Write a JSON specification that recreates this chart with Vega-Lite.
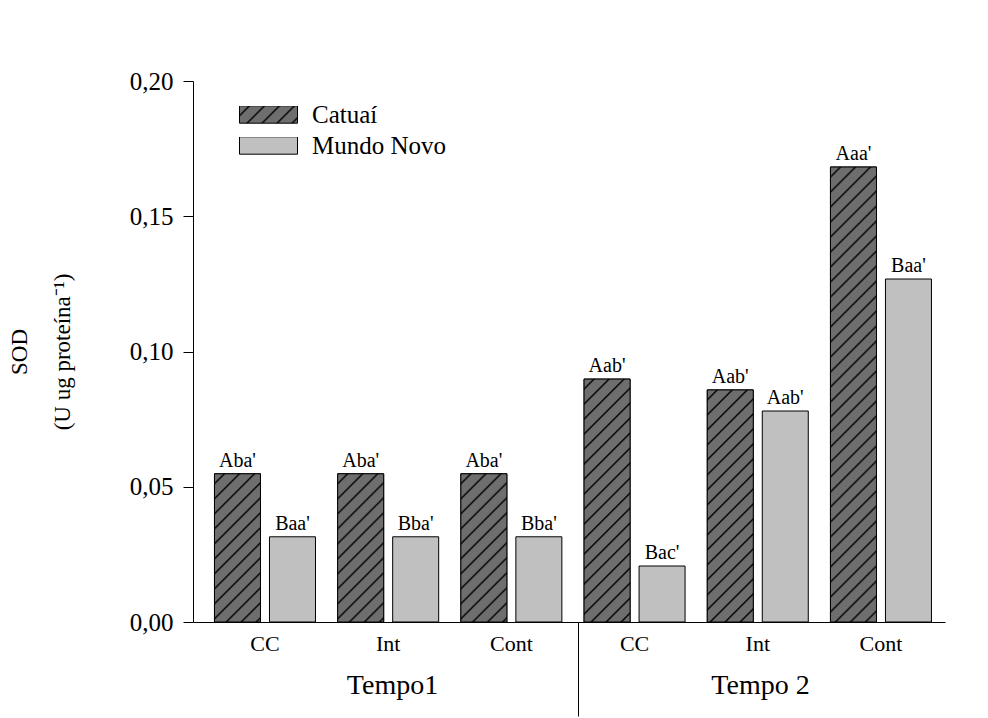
{
"$schema": "https://vega.github.io/schema/vega-lite/v6.json",
"autosize": "none",
"padding": {"left": 193, "top": 81, "right": 43, "bottom": 96},
"width": 752,
"height": 541,
"background": "white",
"config": {"view": {"stroke": null}, "font": "Liberation Serif"},
"data": {"values": [
{"tempo":"Tempo1","grupo":"T1 CC","variedade":"Catuaí","sod":0.0548,"letra":"Aba'"},
{"tempo":"Tempo1","grupo":"T1 CC","variedade":"Mundo Novo","sod":0.0315,"letra":"Baa'"},
{"tempo":"Tempo1","grupo":"T1 Int","variedade":"Catuaí","sod":0.0548,"letra":"Aba'"},
{"tempo":"Tempo1","grupo":"T1 Int","variedade":"Mundo Novo","sod":0.0315,"letra":"Bba'"},
{"tempo":"Tempo1","grupo":"T1 Cont","variedade":"Catuaí","sod":0.0548,"letra":"Aba'"},
{"tempo":"Tempo1","grupo":"T1 Cont","variedade":"Mundo Novo","sod":0.0315,"letra":"Bba'"},
{"tempo":"Tempo 2","grupo":"T2 CC","variedade":"Catuaí","sod":0.0898,"letra":"Aab'"},
{"tempo":"Tempo 2","grupo":"T2 CC","variedade":"Mundo Novo","sod":0.0207,"letra":"Bac'"},
{"tempo":"Tempo 2","grupo":"T2 Int","variedade":"Catuaí","sod":0.0858,"letra":"Aab'"},
{"tempo":"Tempo 2","grupo":"T2 Int","variedade":"Mundo Novo","sod":0.0780,"letra":"Aab'"},
{"tempo":"Tempo 2","grupo":"T2 Cont","variedade":"Catuaí","sod":0.1682,"letra":"Aaa'"},
{"tempo":"Tempo 2","grupo":"T2 Cont","variedade":"Mundo Novo","sod":0.1268,"letra":"Baa'"}
]},
"layer": [
{"layer": [
{"mark": {"type": "bar", "stroke": "black", "strokeWidth": 1, "opacity": 1},
 "encoding": {
  "x": {"field": "grupo", "type": "nominal",
   "scale": {"domain": ["T1 CC","T1 Int","T1 Cont","T2 CC","T2 Int","T2 Cont"], "paddingInner": 0, "paddingOuter": 0.052, "align": 0.81},
   "axis": {"title": null, "ticks": false, "domainColor": "black", "domainWidth": 1, "labelExpr": "slice(datum.value, 3)", "labelFont": "Liberation Serif", "labelFontSize": 22, "labelColor": "black", "labelPadding": 11, "labelAngle": 0}},
  "xOffset": {"field": "variedade", "type": "nominal", "scale": {"domain": ["Catuaí","Mundo Novo"], "paddingInner": 0.1636, "paddingOuter": 0.2018}},
  "y": {"field": "sod", "type": "quantitative", "scale": {"domain": [0, 0.2], "nice": false},
   "axis": {"title": ["SOD", "(U ug proteína⁻¹)"], "values": [0, 0.05, 0.1, 0.15, 0.2], "labelExpr": "replace(format(datum.value, '.2f'), '.', ',')", "grid": false, "domainColor": "black", "tickColor": "black", "tickSize": 10, "labelPadding": 10, "labelFont": "Liberation Serif", "labelFontSize": 25, "labelColor": "black", "titleFont": "Liberation Serif", "titleFontSize": 23, "titleFontWeight": "normal", "titleColor": "black", "titleLineHeight": 43, "titlePadding": 55}},
  "fill": {"field": "variedade", "type": "nominal", "scale": {"domain": ["Mundo Novo"], "range": ["#c0c0c0"]},
   "legend": {"title": null, "orient": "none", "legendX": 46, "legendY": 56, "direction": "vertical", "symbolType": "M-1,-0.3H1V0.3H-1Z", "symbolSize": 3364, "symbolStrokeColor": "black", "symbolStrokeWidth": 1, "symbolOpacity": 1, "labelFont": "Liberation Serif", "labelFontSize": 25, "labelColor": "black", "labelOffset": 14, "labelLimit": 400, "clipHeight": 17, "padding": 0}}
 }},
{"transform": [{"filter": "datum.variedade === 'Catuaí'"}],
 "mark": {"type": "bar", "strokeWidth": 1},
 "encoding": {
  "x": {"field": "grupo", "type": "nominal"},
  "xOffset": {"field": "variedade", "type": "nominal"},
  "y": {"field": "sod", "type": "quantitative"},
  "stroke": {"field": "variedade", "type": "nominal", "scale": {"domain": ["Catuaí"], "range": ["black"]},
   "legend": {"title": null, "orient": "none", "legendX": 46, "legendY": 25, "direction": "vertical", "symbolType": "M-1,-0.3H1V0.3H-1Z", "symbolSize": 3364, "symbolStrokeWidth": 1, "symbolOpacity": 1, "labelFont": "Liberation Serif", "labelFontSize": 25, "labelColor": "black", "labelOffset": 14, "labelLimit": 400, "clipHeight": 17, "padding": 0}},
  "fill": {"condition": [
   {"test": "datum.tempo === 'Tempo1'", "value": {"gradient":"linear","x1":0,"y1":0,"x2":0.371,"y2":1.1952,"stops":[
    {"offset":0,"color":"#6e6e6e"},
    {"offset":0.0412,"color":"#6e6e6e"},{"offset":0.0515,"color":"#000"},{"offset":0.0618,"color":"#6e6e6e"},
    {"offset":0.1184,"color":"#6e6e6e"},{"offset":0.1287,"color":"#000"},{"offset":0.1390,"color":"#6e6e6e"},
    {"offset":0.1957,"color":"#6e6e6e"},{"offset":0.2060,"color":"#000"},{"offset":0.2163,"color":"#6e6e6e"},
    {"offset":0.2729,"color":"#6e6e6e"},{"offset":0.2832,"color":"#000"},{"offset":0.2935,"color":"#6e6e6e"},
    {"offset":0.3502,"color":"#6e6e6e"},{"offset":0.3605,"color":"#000"},{"offset":0.3708,"color":"#6e6e6e"},
    {"offset":0.4274,"color":"#6e6e6e"},{"offset":0.4377,"color":"#000"},{"offset":0.4480,"color":"#6e6e6e"},
    {"offset":0.5046,"color":"#6e6e6e"},{"offset":0.5149,"color":"#000"},{"offset":0.5252,"color":"#6e6e6e"},
    {"offset":0.5819,"color":"#6e6e6e"},{"offset":0.5922,"color":"#000"},{"offset":0.6025,"color":"#6e6e6e"},
    {"offset":0.6591,"color":"#6e6e6e"},{"offset":0.6694,"color":"#000"},{"offset":0.6797,"color":"#6e6e6e"},
    {"offset":0.7364,"color":"#6e6e6e"},{"offset":0.7467,"color":"#000"},{"offset":0.7570,"color":"#6e6e6e"},
    {"offset":0.8136,"color":"#6e6e6e"},{"offset":0.8239,"color":"#000"},{"offset":0.8342,"color":"#6e6e6e"},
    {"offset":0.8908,"color":"#6e6e6e"},{"offset":0.9011,"color":"#000"},{"offset":0.9114,"color":"#6e6e6e"},
    {"offset":0.9681,"color":"#6e6e6e"},{"offset":0.9784,"color":"#000"},{"offset":0.9887,"color":"#6e6e6e"},
    {"offset":1,"color":"#6e6e6e"}]}},
   {"test": "datum.grupo === 'T2 CC'", "value": {"gradient":"linear","x1":0,"y1":0,"x2":0.21744,"y2":1.1482,"stops":[
    {"offset":0,"color":"#6e6e6e"},
    {"offset":0.0277,"color":"#6e6e6e"},{"offset":0.0346,"color":"#000"},{"offset":0.0415,"color":"#6e6e6e"},
    {"offset":0.0796,"color":"#6e6e6e"},{"offset":0.0865,"color":"#000"},{"offset":0.0935,"color":"#6e6e6e"},
    {"offset":0.1315,"color":"#6e6e6e"},{"offset":0.1385,"color":"#000"},{"offset":0.1454,"color":"#6e6e6e"},
    {"offset":0.1835,"color":"#6e6e6e"},{"offset":0.1904,"color":"#000"},{"offset":0.1973,"color":"#6e6e6e"},
    {"offset":0.2354,"color":"#6e6e6e"},{"offset":0.2423,"color":"#000"},{"offset":0.2492,"color":"#6e6e6e"},
    {"offset":0.2873,"color":"#6e6e6e"},{"offset":0.2942,"color":"#000"},{"offset":0.3012,"color":"#6e6e6e"},
    {"offset":0.3392,"color":"#6e6e6e"},{"offset":0.3461,"color":"#000"},{"offset":0.3531,"color":"#6e6e6e"},
    {"offset":0.3911,"color":"#6e6e6e"},{"offset":0.3981,"color":"#000"},{"offset":0.4050,"color":"#6e6e6e"},
    {"offset":0.4431,"color":"#6e6e6e"},{"offset":0.4500,"color":"#000"},{"offset":0.4569,"color":"#6e6e6e"},
    {"offset":0.4950,"color":"#6e6e6e"},{"offset":0.5019,"color":"#000"},{"offset":0.5088,"color":"#6e6e6e"},
    {"offset":0.5469,"color":"#6e6e6e"},{"offset":0.5538,"color":"#000"},{"offset":0.5608,"color":"#6e6e6e"},
    {"offset":0.5988,"color":"#6e6e6e"},{"offset":0.6057,"color":"#000"},{"offset":0.6127,"color":"#6e6e6e"},
    {"offset":0.6507,"color":"#6e6e6e"},{"offset":0.6577,"color":"#000"},{"offset":0.6646,"color":"#6e6e6e"},
    {"offset":0.7027,"color":"#6e6e6e"},{"offset":0.7096,"color":"#000"},{"offset":0.7165,"color":"#6e6e6e"},
    {"offset":0.7546,"color":"#6e6e6e"},{"offset":0.7615,"color":"#000"},{"offset":0.7684,"color":"#6e6e6e"},
    {"offset":0.8065,"color":"#6e6e6e"},{"offset":0.8134,"color":"#000"},{"offset":0.8204,"color":"#6e6e6e"},
    {"offset":0.8584,"color":"#6e6e6e"},{"offset":0.8654,"color":"#000"},{"offset":0.8723,"color":"#6e6e6e"},
    {"offset":0.9104,"color":"#6e6e6e"},{"offset":0.9173,"color":"#000"},{"offset":0.9242,"color":"#6e6e6e"},
    {"offset":0.9623,"color":"#6e6e6e"},{"offset":0.9692,"color":"#000"},{"offset":0.9761,"color":"#6e6e6e"},
    {"offset":1,"color":"#6e6e6e"}]}},
   {"test": "datum.grupo === 'T2 Int'", "value": {"gradient":"linear","x1":0,"y1":0,"x2":0.22849,"y2":1.1529,"stops":[
    {"offset":0,"color":"#6e6e6e"},
    {"offset":0.0288,"color":"#6e6e6e"},{"offset":0.0360,"color":"#000"},{"offset":0.0432,"color":"#6e6e6e"},
    {"offset":0.0827,"color":"#6e6e6e"},{"offset":0.0899,"color":"#000"},{"offset":0.0971,"color":"#6e6e6e"},
    {"offset":0.1366,"color":"#6e6e6e"},{"offset":0.1438,"color":"#000"},{"offset":0.1510,"color":"#6e6e6e"},
    {"offset":0.1906,"color":"#6e6e6e"},{"offset":0.1978,"color":"#000"},{"offset":0.2050,"color":"#6e6e6e"},
    {"offset":0.2445,"color":"#6e6e6e"},{"offset":0.2517,"color":"#000"},{"offset":0.2589,"color":"#6e6e6e"},
    {"offset":0.2985,"color":"#6e6e6e"},{"offset":0.3057,"color":"#000"},{"offset":0.3128,"color":"#6e6e6e"},
    {"offset":0.3524,"color":"#6e6e6e"},{"offset":0.3596,"color":"#000"},{"offset":0.3668,"color":"#6e6e6e"},
    {"offset":0.4063,"color":"#6e6e6e"},{"offset":0.4135,"color":"#000"},{"offset":0.4207,"color":"#6e6e6e"},
    {"offset":0.4603,"color":"#6e6e6e"},{"offset":0.4675,"color":"#000"},{"offset":0.4747,"color":"#6e6e6e"},
    {"offset":0.5142,"color":"#6e6e6e"},{"offset":0.5214,"color":"#000"},{"offset":0.5286,"color":"#6e6e6e"},
    {"offset":0.5682,"color":"#6e6e6e"},{"offset":0.5753,"color":"#000"},{"offset":0.5825,"color":"#6e6e6e"},
    {"offset":0.6221,"color":"#6e6e6e"},{"offset":0.6293,"color":"#000"},{"offset":0.6365,"color":"#6e6e6e"},
    {"offset":0.6760,"color":"#6e6e6e"},{"offset":0.6832,"color":"#000"},{"offset":0.6904,"color":"#6e6e6e"},
    {"offset":0.7300,"color":"#6e6e6e"},{"offset":0.7372,"color":"#000"},{"offset":0.7443,"color":"#6e6e6e"},
    {"offset":0.7839,"color":"#6e6e6e"},{"offset":0.7911,"color":"#000"},{"offset":0.7983,"color":"#6e6e6e"},
    {"offset":0.8378,"color":"#6e6e6e"},{"offset":0.8450,"color":"#000"},{"offset":0.8522,"color":"#6e6e6e"},
    {"offset":0.8918,"color":"#6e6e6e"},{"offset":0.8990,"color":"#000"},{"offset":0.9062,"color":"#6e6e6e"},
    {"offset":0.9457,"color":"#6e6e6e"},{"offset":0.9529,"color":"#000"},{"offset":0.9601,"color":"#6e6e6e"},
    {"offset":1,"color":"#6e6e6e"}]}},
   {"test": "datum.grupo === 'T2 Cont'", "value": {"gradient":"linear","x1":0,"y1":0,"x2":0.11019,"y2":1.08996,"stops":[
    {"offset":0,"color":"#6e6e6e"},
    {"offset":0.0160,"color":"#6e6e6e"},{"offset":0.0200,"color":"#000"},{"offset":0.0240,"color":"#6e6e6e"},
    {"offset":0.0459,"color":"#6e6e6e"},{"offset":0.0499,"color":"#000"},{"offset":0.0539,"color":"#6e6e6e"},
    {"offset":0.0759,"color":"#6e6e6e"},{"offset":0.0798,"color":"#000"},{"offset":0.0838,"color":"#6e6e6e"},
    {"offset":0.1058,"color":"#6e6e6e"},{"offset":0.1098,"color":"#000"},{"offset":0.1138,"color":"#6e6e6e"},
    {"offset":0.1357,"color":"#6e6e6e"},{"offset":0.1397,"color":"#000"},{"offset":0.1437,"color":"#6e6e6e"},
    {"offset":0.1657,"color":"#6e6e6e"},{"offset":0.1697,"color":"#000"},{"offset":0.1737,"color":"#6e6e6e"},
    {"offset":0.1956,"color":"#6e6e6e"},{"offset":0.1996,"color":"#000"},{"offset":0.2036,"color":"#6e6e6e"},
    {"offset":0.2256,"color":"#6e6e6e"},{"offset":0.2295,"color":"#000"},{"offset":0.2335,"color":"#6e6e6e"},
    {"offset":0.2555,"color":"#6e6e6e"},{"offset":0.2595,"color":"#000"},{"offset":0.2635,"color":"#6e6e6e"},
    {"offset":0.2854,"color":"#6e6e6e"},{"offset":0.2894,"color":"#000"},{"offset":0.2934,"color":"#6e6e6e"},
    {"offset":0.3154,"color":"#6e6e6e"},{"offset":0.3194,"color":"#000"},{"offset":0.3234,"color":"#6e6e6e"},
    {"offset":0.3453,"color":"#6e6e6e"},{"offset":0.3493,"color":"#000"},{"offset":0.3533,"color":"#6e6e6e"},
    {"offset":0.3753,"color":"#6e6e6e"},{"offset":0.3792,"color":"#000"},{"offset":0.3832,"color":"#6e6e6e"},
    {"offset":0.4052,"color":"#6e6e6e"},{"offset":0.4092,"color":"#000"},{"offset":0.4132,"color":"#6e6e6e"},
    {"offset":0.4351,"color":"#6e6e6e"},{"offset":0.4391,"color":"#000"},{"offset":0.4431,"color":"#6e6e6e"},
    {"offset":0.4651,"color":"#6e6e6e"},{"offset":0.4691,"color":"#000"},{"offset":0.4731,"color":"#6e6e6e"},
    {"offset":0.4950,"color":"#6e6e6e"},{"offset":0.4990,"color":"#000"},{"offset":0.5030,"color":"#6e6e6e"},
    {"offset":0.5250,"color":"#6e6e6e"},{"offset":0.5289,"color":"#000"},{"offset":0.5329,"color":"#6e6e6e"},
    {"offset":0.5549,"color":"#6e6e6e"},{"offset":0.5589,"color":"#000"},{"offset":0.5629,"color":"#6e6e6e"},
    {"offset":0.5848,"color":"#6e6e6e"},{"offset":0.5888,"color":"#000"},{"offset":0.5928,"color":"#6e6e6e"},
    {"offset":0.6148,"color":"#6e6e6e"},{"offset":0.6188,"color":"#000"},{"offset":0.6228,"color":"#6e6e6e"},
    {"offset":0.6447,"color":"#6e6e6e"},{"offset":0.6487,"color":"#000"},{"offset":0.6527,"color":"#6e6e6e"},
    {"offset":0.6747,"color":"#6e6e6e"},{"offset":0.6786,"color":"#000"},{"offset":0.6826,"color":"#6e6e6e"},
    {"offset":0.7046,"color":"#6e6e6e"},{"offset":0.7086,"color":"#000"},{"offset":0.7126,"color":"#6e6e6e"},
    {"offset":0.7345,"color":"#6e6e6e"},{"offset":0.7385,"color":"#000"},{"offset":0.7425,"color":"#6e6e6e"},
    {"offset":0.7645,"color":"#6e6e6e"},{"offset":0.7685,"color":"#000"},{"offset":0.7725,"color":"#6e6e6e"},
    {"offset":0.7944,"color":"#6e6e6e"},{"offset":0.7984,"color":"#000"},{"offset":0.8024,"color":"#6e6e6e"},
    {"offset":0.8244,"color":"#6e6e6e"},{"offset":0.8283,"color":"#000"},{"offset":0.8323,"color":"#6e6e6e"},
    {"offset":0.8543,"color":"#6e6e6e"},{"offset":0.8583,"color":"#000"},{"offset":0.8623,"color":"#6e6e6e"},
    {"offset":0.8842,"color":"#6e6e6e"},{"offset":0.8882,"color":"#000"},{"offset":0.8922,"color":"#6e6e6e"},
    {"offset":0.9142,"color":"#6e6e6e"},{"offset":0.9182,"color":"#000"},{"offset":0.9222,"color":"#6e6e6e"},
    {"offset":0.9441,"color":"#6e6e6e"},{"offset":0.9481,"color":"#000"},{"offset":0.9521,"color":"#6e6e6e"},
    {"offset":0.9741,"color":"#6e6e6e"},{"offset":0.9780,"color":"#000"},{"offset":0.9820,"color":"#6e6e6e"},
    {"offset":1,"color":"#6e6e6e"}]}}
  ],
  "value": {"gradient":"linear","x1":0,"y1":0,"x2":1.19266,"y2":0.3578,"stops":[
      {"offset":0,"color":"#6e6e6e"},
      {"offset":0.1061,"color":"#6e6e6e"},{"offset":0.1326,"color":"#000"},{"offset":0.1592,"color":"#6e6e6e"},
      {"offset":0.3050,"color":"#6e6e6e"},{"offset":0.3316,"color":"#000"},{"offset":0.3581,"color":"#6e6e6e"},
      {"offset":0.5040,"color":"#6e6e6e"},{"offset":0.5305,"color":"#000"},{"offset":0.5570,"color":"#6e6e6e"},
      {"offset":0.7029,"color":"#6e6e6e"},{"offset":0.7294,"color":"#000"},{"offset":0.7560,"color":"#6e6e6e"},
      {"offset":0.9019,"color":"#6e6e6e"},{"offset":0.9284,"color":"#000"},{"offset":0.9549,"color":"#6e6e6e"},
      {"offset":1,"color":"#6e6e6e"}]}}
 }},
{"mark": {"type": "text", "baseline": "alphabetic", "dy": -7, "font": "Liberation Serif", "fontSize": 20, "color": "black"},
 "encoding": {
  "x": {"field": "grupo", "type": "nominal"},
  "xOffset": {"field": "variedade", "type": "nominal"},
  "y": {"field": "sod", "type": "quantitative"},
  "text": {"field": "letra"}
 }}
]},
{"mark": {"type": "rule", "opacity": 0},
 "encoding": {
  "x": {"field": "tempo", "type": "nominal",
   "scale": {"type": "band", "domain": ["Tempo1","Tempo 2"], "paddingInner": 0, "paddingOuter": 0},
   "axis": {"orient": "bottom", "title": null, "domain": false, "offset": 0, "bandPosition": 0, "tickSize": 94, "tickColor": "black", "tickWidth": 1, "tickOffset": 9,
    "tickOpacity": {"condition": {"test": "datum.value === 'Tempo1'", "value": 0}, "value": 1},
    "labelFont": "Liberation Serif", "labelFontSize": 28, "labelColor": "black", "labelBaseline": "top", "labelPadding": -45,
    "labelOffset": {"condition": {"test": "datum.value === 'Tempo1'", "value": 2}, "value": -6},
    "labelAngle": 0, "labelFlush": false, "labelOverlap": false, "labelBound": false}}
 }}
],
"resolve": {"scale": {"x": "independent"}, "axis": {"x": "independent"}}
}
